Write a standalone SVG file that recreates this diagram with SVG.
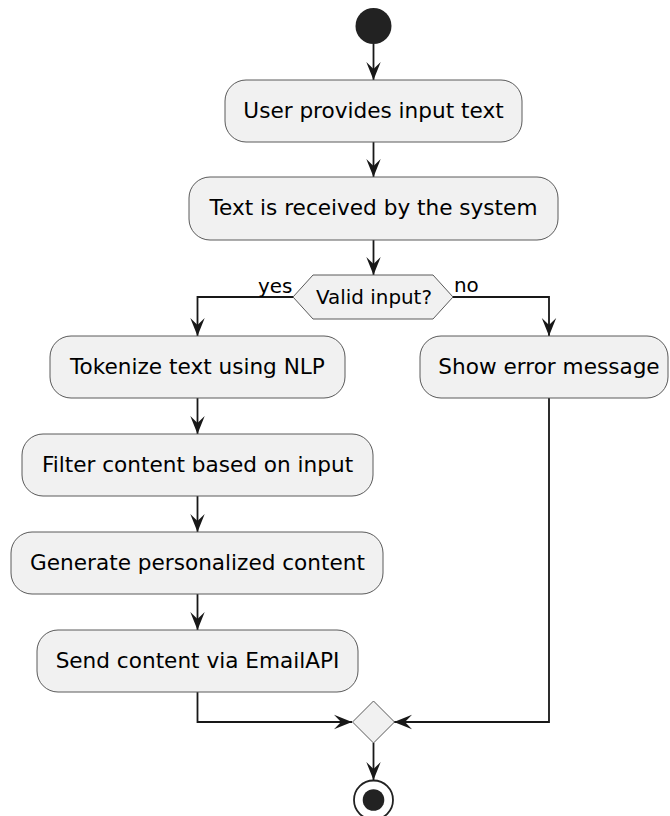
<svg xmlns="http://www.w3.org/2000/svg" width="670" height="816" viewBox="0 0 670 816">
<style>
  .act rect { fill: #F1F1F1; stroke: #5a5a5a; stroke-width: 1; }
  .act text { font-family: "DejaVu Sans", sans-serif; font-size: 21.6px; fill: #000; text-anchor: middle; }
  .dec polygon { fill: #F1F1F1; stroke: #5a5a5a; stroke-width: 1; }
  .dec text, .lbl { font-family: "DejaVu Sans", sans-serif; font-size: 19.9px; fill: #000; }
  .conn path { fill: none; stroke: #181818; stroke-width: 1.8; marker-end: url(#arr); }
</style>
<defs>
  <marker id="arr" viewBox="-20 -10 22 20" refX="0" refY="0" markerWidth="22" markerHeight="20" markerUnits="userSpaceOnUse" orient="auto">
    <path d="M0,0 L-18,-7.2 L-11,0 L-18,7.2 Z" fill="#181818"/>
  </marker>
</defs>
<rect width="670" height="816" fill="#fff"/>

<g id="connectors" class="conn">
  <path d="M373.5,44 L373.5,80"/>
  <path d="M373.5,142 L373.5,177"/>
  <path d="M373.5,240 L373.5,275"/>
  <path d="M293,297 L197.5,297 L197.5,336"/>
  <path d="M453,297 L549,297 L549,336"/>
  <path d="M197.5,398 L197.5,434"/>
  <path d="M197.5,496 L197.5,532"/>
  <path d="M197.5,594 L197.5,630"/>
  <path d="M197.5,692 L197.5,722 L352,722"/>
  <path d="M549,398 L549,722 L394,722"/>
  <path d="M373.5,743 L373.5,780"/>
</g>
<text class="lbl" x="258" y="293">yes</text>
<text class="lbl" x="454" y="292">no</text>

<g id="start"><circle cx="373.5" cy="26" r="18" fill="#222"/></g>

<g id="n1" class="act"><rect x="225" y="80" width="297" height="62" rx="21"/><text x="373.5" y="118">User provides input text</text></g>
<g id="n2" class="act"><rect x="189" y="177" width="369" height="63" rx="21"/><text x="373.5" y="215">Text is received by the system</text></g>

<g id="decision" class="dec"><polygon points="293,297 313,275 433,275 453,297 433,319 313,319"/><text x="374" y="304" text-anchor="middle">Valid input?</text></g>

<g id="n3" class="act"><rect x="50" y="336" width="295" height="62" rx="21"/><text x="197.5" y="374">Tokenize text using NLP</text></g>
<g id="n4" class="act"><rect x="22" y="434" width="351" height="62" rx="21"/><text x="197.5" y="472">Filter content based on input</text></g>
<g id="n5" class="act"><rect x="11" y="532" width="372" height="62" rx="21"/><text x="197.5" y="570">Generate personalized content</text></g>
<g id="n6" class="act"><rect x="37" y="630" width="321" height="62" rx="21"/><text x="197.5" y="668">Send content via EmailAPI</text></g>

<g id="n7" class="act"><rect x="420" y="336" width="248" height="62" rx="21"/><text x="549" y="374">Show error message</text></g>

<g id="merge" class="dec"><polygon points="373.5,701 394.5,722 373.5,743 352.5,722"/></g>

<g id="end"><circle cx="373.5" cy="800" r="19.5" fill="#fff" stroke="#222" stroke-width="1.8"/><circle cx="373.5" cy="800" r="10.8" fill="#222"/></g>
</svg>
